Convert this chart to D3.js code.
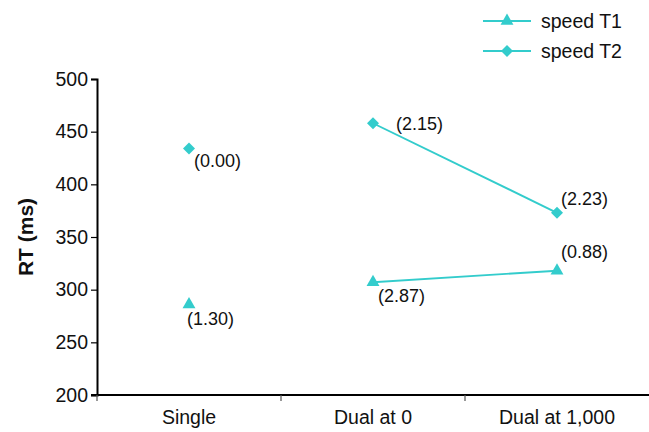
<!DOCTYPE html>
<html>
<head>
<meta charset="utf-8">
<script src="https://cdn.jsdelivr.net/npm/d3@7"></script>
<style>
  html, body { margin: 0; padding: 0; background: #fff; }
  svg { display: block; font-family: "Liberation Sans", Arial, Helvetica, sans-serif; }
</style>
</head>
<body>
<svg id="chart" width="649" height="432"></svg>
<script>
// Conditions on the x axis
const categories = ["Single", "Dual at 0", "Dual at 1,000"];
// Mean RT (ms) per condition
const speedT1 = [286, 307, 318];
const speedT2 = [434, 458, 373];
// Bracketed values printed next to each point
const labelsT1 = ["(1.30)", "(2.87)", "(0.88)"];
const labelsT2 = ["(0.00)", "(2.15)", "(2.23)"];
const yTicks = [200, 250, 300, 350, 400, 450, 500];
// Points that are joined by a line (Single stands alone)
const connected = ["Dual at 0", "Dual at 1,000"];

const color = "#33CCCC";
const svg = d3.select("#chart");
const margin = { left: 97, right: 0, top: 79, bottom: 37 };
const W = 649, H = 432;

const x = d3.scaleBand().domain(categories).range([margin.left, W - margin.right]);
const y = d3.scaleLinear().domain([200, 500]).range([H - margin.bottom, margin.top]);
const cx = c => x(c) + x.bandwidth() / 2;

// Y axis
const yAxis = svg.append("g")
  .attr("transform", `translate(${margin.left},0)`)
  .call(d3.axisLeft(y).tickValues(yTicks).tickSize(6).tickPadding(3));
yAxis.select(".domain").attr("stroke", "#000").attr("stroke-width", 2);
yAxis.selectAll(".tick line").attr("stroke", "#000").attr("stroke-width", 1.2);
yAxis.selectAll(".tick text").attr("font-size", 19.5).attr("fill", "#111");

// X axis: ticks on band boundaries, labels at band centres
const xAxis = svg.append("g")
  .attr("transform", `translate(0,${y(200)})`);
xAxis.append("line")
  .attr("x1", margin.left - 6).attr("x2", W)
  .attr("stroke", "#000").attr("stroke-width", 2);
xAxis.selectAll("line.tk")
  .data(categories)
  .join("line")
  .attr("class", "tk")
  .attr("x1", d => x(d)).attr("x2", d => x(d))
  .attr("y1", 0).attr("y2", 6)
  .attr("stroke", "#555").attr("stroke-width", 1.2);
xAxis.selectAll("text")
  .data(categories)
  .join("text")
  .attr("x", d => cx(d))
  .attr("y", 29)
  .attr("text-anchor", "middle")
  .attr("font-size", 19.5)
  .attr("fill", "#111")
  .text(d => d);

// Y axis title
svg.append("text")
  .attr("transform", `translate(33,${(y(200) + y(500)) / 2}) rotate(-90)`)
  .attr("text-anchor", "middle")
  .attr("font-size", 21)
  .attr("font-weight", "bold")
  .attr("fill", "#111")
  .text("RT (ms)");

const triangle = d3.symbol().type(d3.symbolTriangle).size(72);
const diamond = d3.symbol().type(d3.symbolSquare).size(72);

function drawSeries(values, shape, rotate, labels, offsets) {
  const pts = categories.map((c, i) => ({ c, v: values[i], lab: labels[i], off: offsets[i] }));
  const line = d3.line().x(d => cx(d.c)).y(d => y(d.v));
  svg.append("path")
    .datum(pts.filter(d => connected.includes(d.c)))
    .attr("d", line)
    .attr("fill", "none")
    .attr("stroke", color)
    .attr("stroke-width", 1.9);
  svg.selectAll(null)
    .data(pts)
    .join("path")
    .attr("d", shape)
    .attr("transform", d => `translate(${cx(d.c)},${y(d.v)}) rotate(${rotate})`)
    .attr("fill", color);
  svg.selectAll(null)
    .data(pts)
    .join("text")
    .attr("x", d => cx(d.c) + d.off[0])
    .attr("y", d => y(d.v) + d.off[1])
    .attr("font-size", 18)
    .attr("fill", "#111")
    .text(d => d.lab);
}

drawSeries(speedT1, triangle, 0, labelsT1, [[-2, 21], [5, 20], [4, -13]]);
drawSeries(speedT2, diamond, 45, labelsT2, [[5, 18], [23, 7], [4, -8]]);

// Legend
const legend = svg.append("g");
const legendItems = [
  { name: "speed T1", shape: triangle, rot: 0 },
  { name: "speed T2", shape: diamond, rot: 45 }
];
legendItems.forEach((it, i) => {
  const ly = 21 + i * 30;
  legend.append("line")
    .attr("x1", 483).attr("x2", 531).attr("y1", ly).attr("y2", ly)
    .attr("stroke", color).attr("stroke-width", 1.9);
  legend.append("path")
    .attr("d", it.shape)
    .attr("transform", `translate(507,${ly}) rotate(${it.rot})`)
    .attr("fill", color);
  legend.append("text")
    .attr("x", 541).attr("y", ly + 7)
    .attr("font-size", 19.5)
    .attr("fill", "#111")
    .text(it.name);
});
</script>
</body>
</html>
